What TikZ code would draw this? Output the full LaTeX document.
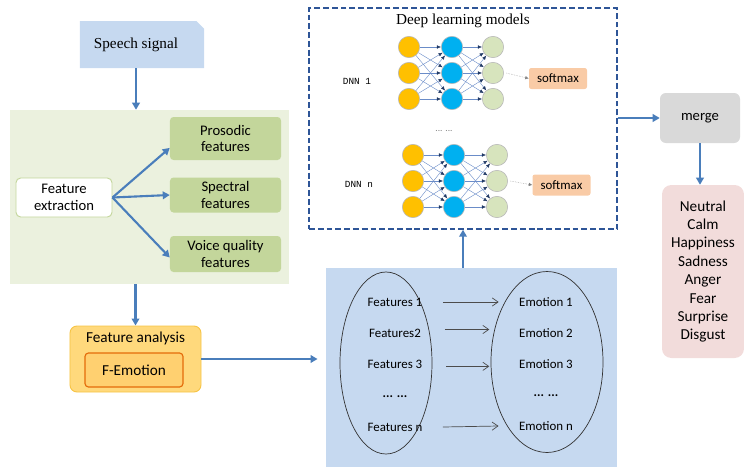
\documentclass[tikz,border=0pt]{standalone}
\usepackage{fontspec}
\setmainfont{Carlito}
\newfontfamily\timesfont{Liberation Serif}
\newfontfamily\monofont{Liberation Mono}
\usepackage{tikz}
\usetikzlibrary{
  arrows.meta,
  positioning,
  shapes.geometric,
  shapes.misc,
  calc,
}
\definecolor{sigblue}{HTML}{C6D9F0}
\definecolor{arrowblue}{HTML}{4A7EBB}
\definecolor{panelgreen}{HTML}{EBF1DE}
\definecolor{boxgreen}{HTML}{C3D69B}
\definecolor{anaorange}{HTML}{FFD97C}
\definecolor{anaedge}{HTML}{F6C445}
\definecolor{femoedge}{HTML}{E46C0A}
\definecolor{dashblue}{HTML}{2E5597}
\definecolor{inyellow}{HTML}{FFC000}
\definecolor{hidblue}{HTML}{00B0F0}
\definecolor{outgreen}{HTML}{D7E4BD}
\definecolor{synblue}{HTML}{6A8CC8}
\definecolor{navy}{HTML}{1F3864}
\definecolor{softorange}{HTML}{F9CBA6}
\definecolor{mergegray}{HTML}{D9D9D9}
\definecolor{emopink}{HTML}{F2DCDB}

\tikzset{
  flow/.style={draw=arrowblue, line width=1.8pt, -{Triangle[length=6pt, width=6.5pt]}},
  link/.style={draw=gray!60!black, line width=0.6pt, -{Straight Barb[length=5pt, width=7pt]}},
  synapse/.style={draw=synblue, line width=0.35pt, -{Latex[length=3.5pt, width=3pt, color=navy]}},
  neuron/.style={circle, draw=gray!55, line width=0.5pt, minimum size=0.64cm, inner sep=0pt},
  featbox/.style={fill=boxgreen, rounded corners=3pt, minimum width=3.33cm,
    align=center, font=\fontsize{12.5}{14}\selectfont, inner sep=1pt},
  smbox/.style={fill=softorange, rounded corners=2pt, minimum width=1.74cm,
    minimum height=0.63cm, font=\fontsize{11}{12}\selectfont},
  plain/.style={font=\fontsize{11}{12}\selectfont},
}

\begin{document}
\begin{tikzpicture}[x=0.03cm, y=-0.03cm]
  \useasboundingbox (0,0) rectangle (744,468);

  % speech signal and feature extraction
  \node[chamfered rectangle, chamfered rectangle corners=north east,
    chamfered rectangle xsep=5pt, fill=sigblue, minimum width=3.72cm,
    minimum height=1.41cm] (speech) at (142,44.5) {};
  \node[font=\timesfont\fontsize{13}{15}\selectfont] (speechtext) at (136,45) {Speech signal};
  \node[fill=panelgreen, minimum width=8.37cm, minimum height=5.22cm] (extpanel) at (149.5,197) {};
  \node[draw=boxgreen, fill=white, line width=0.8pt, rounded corners=4pt,
    minimum width=2.88cm, minimum height=1.17cm, align=center,
    font=\fontsize{12.5}{14}\selectfont] (extract) at (64,197.5) {Feature\\extraction};
  \node[featbox, minimum height=1.29cm] (prosodic) at (225.5,138.5) {Prosodic\\features};
  \node[featbox, minimum height=1.05cm] (spectral) at (225.5,195) {Spectral\\features};
  \node[featbox, minimum height=1.08cm] (voice) at (225.5,254) {Voice quality\\features};
  \draw[flow] (speech.south -| 136,0) -- (136,110 |- extpanel.north);
  \draw[flow] (extract.east) -- ([yshift=-8pt]prosodic.west);
  \draw[flow] (extract.east) -- (spectral.west);
  \draw[flow] (extract.east) -- ([yshift=-3pt]voice.west);

  % feature analysis
  \node[draw=anaedge, fill=anaorange, line width=0.8pt, rounded corners=6pt,
    minimum width=3.93cm, minimum height=1.98cm] (analysis) at (135.5,359) {};
  \node[font=\fontsize{13}{15}\selectfont] (anatitle) at (135.5,338) {Feature analysis};
  \node[draw=femoedge, fill=anaorange!90!orange, line width=1pt, rounded corners=3pt,
    minimum width=2.94cm, minimum height=1.02cm, font=\fontsize{13}{15}\selectfont]
    (femo) at (134,370) {F-Emotion};
  \draw[flow] (extpanel.south -| analysis.north) -- (analysis.north);

  % feature to emotion mapping
  \node[fill=sigblue, minimum width=8.73cm, minimum height=5.97cm] (mappanel) at (471.5,367.5) {};
  \node[ellipse, draw=gray!40!black, line width=0.6pt, minimum width=2.76cm,
    minimum height=5.46cm] (featset) at (386,363) {};
  \node[ellipse, draw=gray!40!black, line width=0.6pt, minimum width=3.36cm,
    minimum height=5.43cm] (emoset) at (547,362) {};
  \node[plain] (f1) at (395,302) {Features 1};
  \node[plain] (f2) at (395,333) {Features2};
  \node[plain] (f3) at (395,364) {Features 3};
  \node[plain] (fdots) at (395,397) {\textbf{... ...}};
  \node[plain] (fn) at (395,427) {Features n};
  \node[plain] (e1) at (546,302) {Emotion 1};
  \node[plain] (e2) at (546,333) {Emotion 2};
  \node[plain] (e3) at (546,364) {Emotion 3};
  \node[plain] (edots) at (546,396) {\textbf{... ...}};
  \node[plain] (en) at (546,426) {Emotion n};
  \draw[link] ([xshift=14pt]f1.east) -- ([xshift=-14pt]e1.west);
  \draw[link] ([xshift=17pt,yshift=3pt]f2.east) -- ([xshift=-22pt,yshift=3pt]e2.west);
  \draw[link] ([xshift=17pt,yshift=-2pt]f3.east) -- ([xshift=-22pt,yshift=-2pt]e3.west);
  \draw[link] ([xshift=14pt]fn.east) -- ([xshift=-14pt]en.west);
  \draw[flow] (analysis.east) -- (analysis.east -| mappanel.west) [shorten >=7pt];

  % deep learning models
  \node[draw=dashblue, dash pattern=on 5pt off 2.5pt, line width=1.2pt, minimum width=9.24cm,
    minimum height=6.63cm] (dlbox) at (463,118.5) {};
  \node[font=\timesfont\fontsize{13}{15}\selectfont] (dltitle) at (463,21) {Deep learning models};
  \foreach \net/\xa/\xb/\xc/\ya in {1/409/452/493/47, 2/413/454/497/155} {
    \foreach \r in {1,2,3} {
      \node[neuron, fill=inyellow] (in\net-\r) at ({\xa},{\ya+26*(\r-1)}) {};
      \node[neuron, fill=hidblue] (hid\net-\r) at ({\xb},{\ya+26*(\r-1)}) {};
      \node[neuron, fill=outgreen] (out\net-\r) at ({\xc},{\ya+26*(\r-1)}) {};
    }
  }
  \foreach \net in {1,2}
    \foreach \i in {1,2,3}
      \foreach \j in {1,2,3} {
        \draw[synapse] (in\net-\i) -- (hid\net-\j);
        \draw[synapse] (hid\net-\i) -- (out\net-\j);
      }
  \node[font=\monofont\fontsize{8}{9}\selectfont] (dnn1) at (357,81) {DNN 1};
  \node[font=\monofont\fontsize{8}{9}\selectfont] (dnnn) at (359,184) {DNN n};
  \node[font=\fontsize{8}{9}\selectfont, text=gray] (nndots) at (444,131) {... ...};
  \node[smbox] (soft1) at (558,78.5) {softmax};
  \node[smbox] (soft2) at (561.5,185) {softmax};
  \draw[gray, densely dotted, -{Latex[length=3pt, width=3pt]}] ([xshift=2pt]out1-2.east) -- (soft1.west);
  \draw[gray, densely dotted, -{Latex[length=3pt, width=3pt]}] ([xshift=2pt]out2-2.east) -- (soft2.west);
  \draw[flow] (mappanel.north -| dlbox.south) -- (dlbox.south);

  % merge and emotion classes
  \node[fill=mergegray, rounded corners=5pt, minimum width=2.4cm, minimum height=1.5cm,
    font=\fontsize{12.5}{14}\selectfont] (merge) at (700,118) {merge};
  \node[fill=emopink, rounded corners=8pt, minimum width=2.46cm, minimum height=5.19cm,
    align=center, font=\fontsize{13}{15.7}\selectfont] (emolist) at (703,271.5)
    {Neutral\\Calm\\Happiness\\Sadness\\Anger\\Fear\\Surprise\\Disgust};
  \draw[flow] (dlbox.east |- merge.west) -- (merge.west);
  \draw[flow] (merge.south) -- (merge.south |- emolist.north);
\end{tikzpicture}
\end{document}
